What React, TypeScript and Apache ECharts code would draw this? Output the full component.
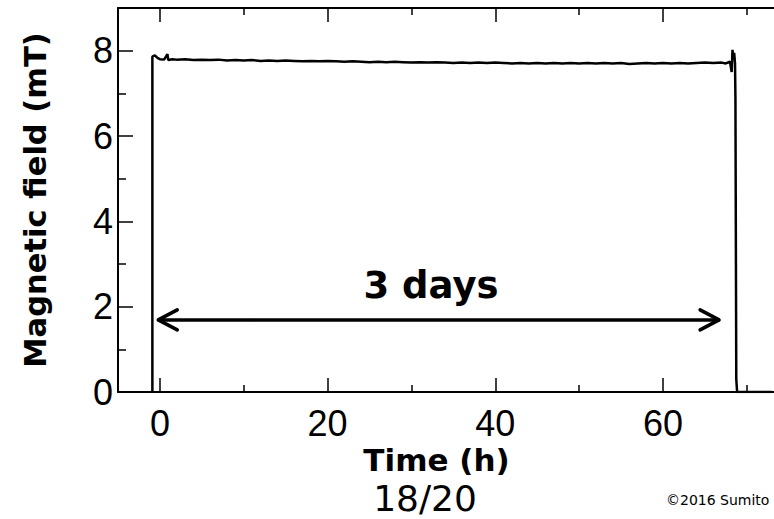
import React, { useEffect, useRef } from "react";
import * as echarts from "echarts";

const timeH = [
  -0.9, -0.9, -0.6, -0.3, 0, 0.5, 0.9, 1.0, 1.5, 2, 3, 4, 5, 6, 7, 8, 9, 10,
  11, 12, 13, 14, 15, 16, 17, 18, 19, 20, 21, 22, 23, 24, 25, 26, 27, 28, 29,
  30, 31, 32, 33, 34, 35, 36, 37, 38, 39, 40, 41, 42, 43, 44, 45, 46, 47, 48,
  49, 50, 51, 52, 53, 54, 55, 56, 57, 58, 59, 60, 61, 62, 63, 64, 65, 66, 67,
  67.5, 68, 68.2, 68.3, 68.4, 68.5, 68.6, 68.65, 68.75, 68.85, 73,
];
const fieldMT = [
  0, 7.86, 7.89, 7.83, 7.8, 7.79, 7.92, 7.78, 7.8, 7.79, 7.8, 7.78, 7.79, 7.78,
  7.79, 7.77, 7.78, 7.77, 7.78, 7.76, 7.77, 7.76, 7.77, 7.76, 7.75, 7.76, 7.75,
  7.76, 7.75, 7.74, 7.75, 7.74, 7.73, 7.74, 7.73, 7.74, 7.73, 7.72, 7.73, 7.72,
  7.73, 7.72, 7.71, 7.72, 7.71, 7.72, 7.71, 7.72, 7.71, 7.7, 7.71, 7.7, 7.71,
  7.7, 7.71, 7.7, 7.71, 7.7, 7.71, 7.7, 7.71, 7.7, 7.71, 7.69, 7.7, 7.71, 7.7,
  7.71, 7.7, 7.71, 7.7, 7.71, 7.72, 7.71, 7.72, 7.7, 7.74, 7.5, 8.02, 7.8,
  7.95, 7.7, 6.9, 0.3, 0, 0,
];

const xMajorTicks = [0, 20, 40, 60];
const xMinorTicks = [10, 30, 50, 70];
const yMajorTicks = [0, 2, 4, 6, 8];
const yMinorTicks = [1, 3, 5, 7];

// "3 days" double arrow
const arrowFromH = -0.2;
const arrowToH = 66.7;
const arrowLevelMT = 1.69;

const X_MIN = -5;
const X_MAX = 73.25;
const Y_MIN = 0;
const Y_MAX = 9;

const W = 774;
const H = 519;
const GRID = { left: 118, right: 0, top: 8, bottom: 127 };

export default function App() {
  const ref = useRef<HTMLDivElement>(null);

  useEffect(() => {
    if (!ref.current) return;
    const chart = echarts.init(ref.current, undefined, { renderer: "svg" });

    const pxPerH = (W - GRID.left - GRID.right) / (X_MAX - X_MIN);
    const pxPerMT = (H - GRID.top - GRID.bottom) / (Y_MAX - Y_MIN);
    const headDx = 19 / pxPerH;
    const headDy = 10 / pxPerMT;

    const trace = timeH.map((t, i) => [t, fieldMT[i]]);

    const black = "#000";
    const axisCommon = {
      type: "value" as const,
      min: X_MIN,
      max: X_MAX,
      splitLine: { show: false },
    };
    const yCommon = {
      type: "value" as const,
      min: Y_MIN,
      max: Y_MAX,
      splitLine: { show: false },
    };

    const arrowLine = {
      type: "line" as const,
      silent: true,
      symbol: "none",
      lineStyle: { color: black, width: 3.5, cap: "round" as const },
      z: 3,
    };

    chart.setOption({
      animation: false,
      backgroundColor: "#fff",
      grid: { ...GRID, outerBoundsMode: "none", containLabel: false },
      xAxis: [
        {
          ...axisCommon,
          position: "bottom",
          name: "Time (h)",
          nameLocation: "middle",
          nameGap: 52,
          nameMoveOverlap: false,
          nameTextStyle: {
            fontFamily: "DejaVu Sans",
            fontWeight: "bold",
            fontSize: 31,
            lineHeight: 31,
            color: black,
            padding: [0, 19, 0, 0],
          },
          axisLine: {
            show: true,
            onZero: false,
            lineStyle: { color: black, width: 2 },
          },
          axisTick: {
            show: true,
            inside: true,
            length: 14,
            customValues: xMajorTicks,
            lineStyle: { color: black, width: 1.5 },
          },
          axisLabel: {
            show: true,
            customValues: xMajorTicks,
            margin: 13,
            fontFamily: "Liberation Sans",
            fontSize: 36,
            color: black,
          },
        },
        {
          ...axisCommon,
          position: "bottom",
          axisLine: { show: false, onZero: false },
          axisTick: {
            show: true,
            inside: true,
            length: 7,
            customValues: xMinorTicks,
            lineStyle: { color: black, width: 1.5 },
          },
          axisLabel: { show: false },
        },
        {
          ...axisCommon,
          position: "top",
          axisLine: {
            show: true,
            onZero: false,
            lineStyle: { color: black, width: 2 },
          },
          axisTick: {
            show: true,
            inside: true,
            length: 14,
            customValues: xMajorTicks,
            lineStyle: { color: black, width: 1.5 },
          },
          axisLabel: { show: false },
        },
        {
          ...axisCommon,
          position: "top",
          axisLine: { show: false, onZero: false },
          axisTick: {
            show: true,
            inside: true,
            length: 7,
            customValues: xMinorTicks,
            lineStyle: { color: black, width: 1.5 },
          },
          axisLabel: { show: false },
        },
      ],
      yAxis: [
        {
          ...yCommon,
          position: "left",
          name: "Magnetic field (mT)",
          nameLocation: "middle",
          nameRotate: 90,
          nameGap: 67,
          nameMoveOverlap: false,
          nameTextStyle: {
            fontFamily: "DejaVu Sans",
            fontWeight: "bold",
            fontSize: 30.5,
            color: black,
          },
          axisLine: {
            show: true,
            onZero: false,
            lineStyle: { color: black, width: 2 },
          },
          axisTick: {
            show: true,
            inside: true,
            length: 15,
            customValues: yMajorTicks,
            lineStyle: { color: black, width: 1.5 },
          },
          axisLabel: {
            show: true,
            customValues: yMajorTicks,
            margin: 5,
            fontFamily: "Liberation Sans",
            fontSize: 36,
            color: black,
          },
        },
        {
          ...yCommon,
          position: "left",
          axisLine: { show: false, onZero: false },
          axisTick: {
            show: true,
            inside: true,
            length: 8,
            customValues: yMinorTicks,
            lineStyle: { color: black, width: 1.5 },
          },
          axisLabel: { show: false },
        },
      ],
      series: [
        {
          name: "Magnetic field",
          type: "line",
          data: trace,
          symbol: "none",
          lineStyle: { color: black, width: 2.5 },
          z: 2,
        },
        {
          ...arrowLine,
          name: "arrow shaft",
          data: [
            [arrowFromH, arrowLevelMT],
            [arrowToH, arrowLevelMT],
          ],
        },
        {
          ...arrowLine,
          name: "arrow left head",
          data: [
            [arrowFromH + headDx, arrowLevelMT + headDy],
            [arrowFromH, arrowLevelMT],
            [arrowFromH + headDx, arrowLevelMT - headDy],
          ],
        },
        {
          ...arrowLine,
          name: "arrow right head",
          data: [
            [arrowToH - headDx, arrowLevelMT + headDy],
            [arrowToH, arrowLevelMT],
            [arrowToH - headDx, arrowLevelMT - headDy],
          ],
        },
      ],
      graphic: [
        {
          type: "text",
          x: 431,
          y: 285,
          style: {
            text: "3 days",
            fontFamily: "DejaVu Sans",
            fontWeight: "bold",
            fontSize: 37,
            fill: black,
            align: "center",
            verticalAlign: "middle",
          },
        },
        {
          type: "text",
          x: 425,
          y: 498,
          style: {
            text: "18/20",
            fontFamily: "DejaVu Sans",
            fontSize: 36,
            fill: black,
            align: "center",
            verticalAlign: "middle",
          },
        },
        {
          type: "text",
          x: 666,
          y: 500,
          style: {
            text: "©2016 Sumito",
            fontFamily: "DejaVu Sans",
            fontSize: 14,
            fill: black,
            align: "left",
            verticalAlign: "middle",
          },
        },
      ],
    });

    return () => chart.dispose();
  }, []);

  return (
    <div
      ref={ref}
      style={{ position: "fixed", left: 0, top: 0, width: W, height: H }}
    />
  );
}
